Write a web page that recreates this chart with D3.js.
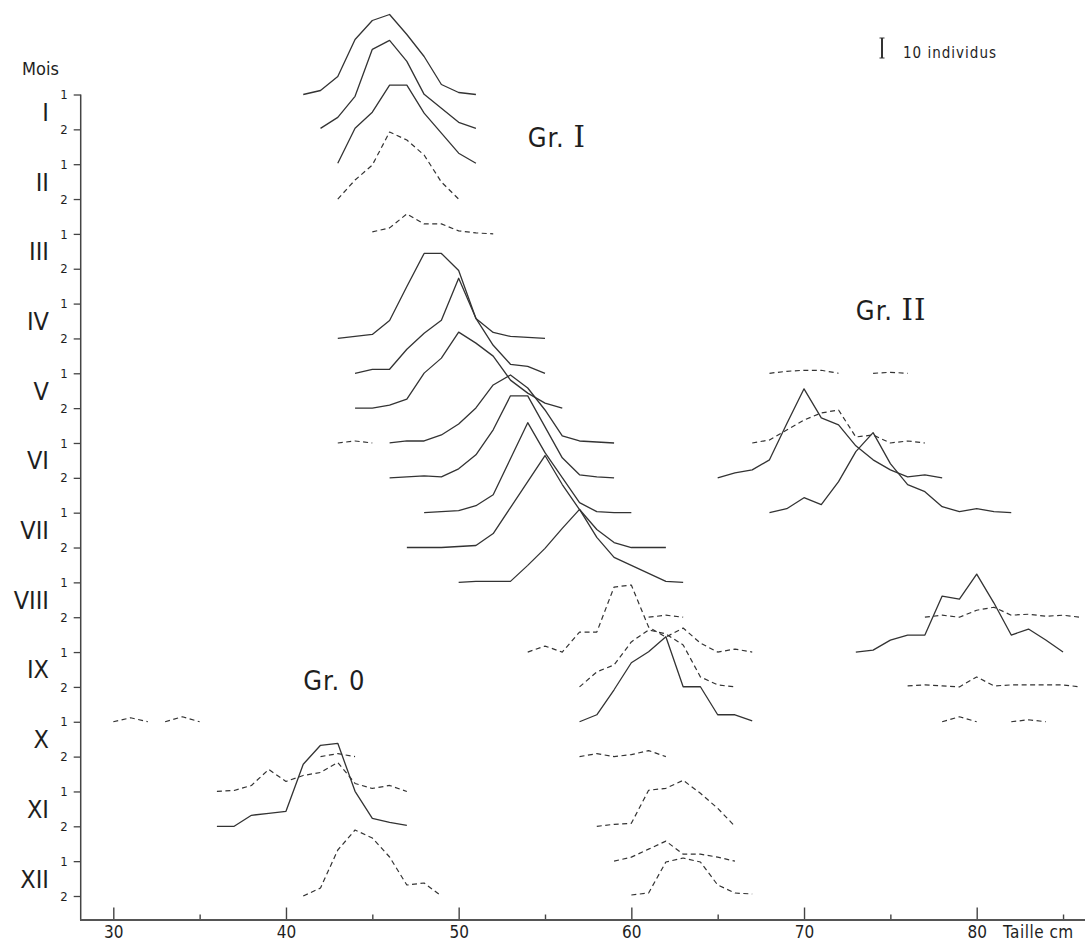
<!DOCTYPE html>
<html>
<head>
<meta charset="utf-8">
<script src="https://cdn.jsdelivr.net/npm/d3@7"></script>
<style>
  body { margin: 0; background: #fff; }
  svg text { font-family: "DejaVu Sans Condensed", "DejaVu Sans", sans-serif; fill: #1e1e1e; }
</style>
</head>
<body>
<div id="canvas"></div>
<script>
// DATA
const mois = ["I", "II", "III", "IV", "V", "VI", "VII", "VIII", "IX", "X", "XI", "XII"];
const quinzaines = [1, 2];
const xTicks = [30, 35, 40, 45, 50, 55, 60, 65, 70, 75, 80, 85];
const xLabels = [30, 40, 50, 60, 70, 80];

// m = mois, q = quinzaine, start = first size class (cm), n = individuals per 1 cm class
// petit = small sample (drawn dashed)
const grI = [
  { m: 1, q: 1, start: 41, n: [0, 2, 9, 27.5, 37, 40, 30, 19, 5, 1, 0] },
  { m: 1, q: 2, start: 42, n: [0.5, 6, 16.5, 40, 44.5, 34, 17.5, 10.5, 3.5, 0.5] },
  { m: 2, q: 1, start: 43, n: [0.5, 18, 26, 39.5, 39.5, 25.5, 15.5, 5.5, 0.5] },
  { m: 2, q: 2, start: 43, petit: true, n: [0, 9.5, 17, 33.5, 29.5, 22, 8.5, 0] },
  { m: 3, q: 1, start: 45, petit: true, n: [1, 3, 10, 5, 5, 1.5, 0.5, 0] },
  { m: 4, q: 2, start: 43, n: [0, 1, 2, 9, 26, 42.5, 42.5, 34, 10, 3, 1, 0.5, 0] },
  { m: 5, q: 1, start: 44, n: [0, 2, 2, 12, 20, 26.5, 47.5, 27.5, 14, 4.5, 3.5, 0] },
  { m: 5, q: 2, start: 44, n: [0, 0, 1.5, 4.5, 17.5, 25, 38, 32.5, 26, 14, 7.5, 2.5, 0] },
  { m: 6, q: 1, start: 43, petit: true, n: [0, 1, 0] },
  { m: 6, q: 1, start: 46, n: [0, 1, 1, 4, 9.5, 17.5, 29, 34, 27.5, 16.5, 3.5, 1, 0.5, 0] },
  { m: 6, q: 2, start: 46, n: [0, 0.5, 1, 0.5, 4.5, 11.5, 24, 41, 41, 25.5, 10, 1.5, 0.5, 0] },
  { m: 7, q: 1, start: 48, n: [0, 0.5, 1, 3.5, 9, 27, 45, 30, 17.5, 5, 0.5, 0, 0] },
  { m: 7, q: 2, start: 47, n: [0, 0, 0, 0.5, 1, 7, 20, 33, 46, 31.5, 19, 9, 2.5, 0, 0, 0] },
  { m: 8, q: 1, start: 50, n: [0, 0.5, 0.5, 0.5, 8.5, 17, 27, 36.5, 22.5, 12.5, 8.5, 4.5, 0.5, 0] },
  { m: 8, q: 2, start: 61, petit: true, n: [0, 1, 0] },
  { m: 9, q: 1, start: 54, petit: true, n: [0, 3, 0, 10, 10, 32.5, 33.5, 12.5, 7.5, 12, 4.5, 0, 1.5, 0] },
  { m: 9, q: 2, start: 57, petit: true, n: [0, 7.5, 11, 22.5, 28.5, 26.5, 21, 5, 1, 0] },
  { m: 10, q: 1, start: 57, n: [0, 3.5, 16, 29.5, 35, 42.5, 17.5, 17.5, 3.5, 3.5, 0.5] },
  { m: 10, q: 2, start: 57, petit: true, n: [0, 1.5, 0, 1, 3, 0] },
  { m: 11, q: 2, start: 58, petit: true, n: [0, 1, 1.5, 18, 19, 23, 16.5, 9, 0] },
  { m: 12, q: 1, start: 59, petit: true, n: [0, 2, 6, 10, 3.5, 3.5, 2, 0] },
  { m: 12, q: 2, start: 60, petit: true, n: [0.5, 1.5, 17, 19, 17, 5.5, 1.5, 1] }
];

const grII = [
  { m: 5, q: 1, start: 68, petit: true, n: [0, 1, 1.5, 1.5, 0] },
  { m: 5, q: 1, start: 74, petit: true, n: [0, 0.5, 0] },
  { m: 6, q: 1, start: 67, petit: true, n: [0, 1.5, 6.5, 11.5, 15, 16.5, 3, 4, 0, 1, 0] },
  { m: 6, q: 2, start: 65, n: [0, 2.5, 4, 9, 27, 44.5, 30, 26.5, 16, 9, 4, 0.5, 1.5, 0] },
  { m: 7, q: 1, start: 68, n: [0, 2, 7.5, 4, 15.5, 30.5, 40, 24.5, 14, 10.5, 3, 0.5, 2, 0.5, 0] },
  { m: 8, q: 2, start: 77, petit: true, n: [0, 1, 0, 3.5, 5, 1, 1.5, 0.5, 1, 0] },
  { m: 9, q: 1, start: 73, n: [0, 1, 6, 8.5, 8.5, 28, 26.5, 39, 24.5, 8.5, 11.5, 6, 0] },
  { m: 9, q: 2, start: 76, petit: true, n: [0.5, 1, 0.5, 0, 5, 0.5, 1, 1, 1, 1, 0] },
  { m: 10, q: 1, start: 78, petit: true, n: [0, 2.5, 0] },
  { m: 10, q: 1, start: 82, petit: true, n: [0, 1, 0] }
];

const grO = [
  { m: 10, q: 1, start: 30, petit: true, n: [0, 2, 0] },
  { m: 10, q: 1, start: 33, petit: true, n: [0, 2.5, 0] },
  { m: 10, q: 2, start: 42, petit: true, n: [0, 1.5, 0] },
  { m: 11, q: 1, start: 36, petit: true, n: [0, 0.5, 3, 11, 5, 8, 9.5, 14.5, 4, 1.5, 3, 0] },
  { m: 11, q: 2, start: 36, n: [0, 0, 5.5, 6.5, 7.5, 31, 40.5, 41.5, 17.5, 4, 2, 0.5] },
  { m: 12, q: 2, start: 41, petit: true, n: [0, 4, 23, 33, 29, 19.5, 5.5, 6.5, 0] }
];

const groupLabels = [
  { num: "I", cm: 54, key: "II-1", dy: -17 },
  { num: "II", cm: 73, key: "IV-2", dy: -18 },
  { num: "0", cm: 41, key: "IX-2", dy: 3 }
];

function drawGraph() {
  // DIMENSIONS
  const width = 1085;
  const height = 944;

  const canvas = d3.select("#canvas")
    .append("svg")
    .attr("width", width)
    .attr("height", height);

  // SCALES
  const rowKeys = mois.flatMap(m => quinzaines.map(q => m + "-" + q));
  const scaleRow = d3.scalePoint(rowKeys, [94.5, 896]);
  const scaleX = d3.scaleLinear([30, 80], [113.3, 976.7]);
  const scaleN = d3.scaleLinear([0, 10], [0, 20]);   // 10 individus = 20 px

  const ink = "#333";

  // CURVES
  const line = d3.line().x(d => scaleX(d.cm)).y(d => d.y);
  const curves = [...grI, ...grII, ...grO].map(c => {
    const base = scaleRow(mois[c.m - 1] + "-" + c.q);
    return { petit: c.petit, pts: c.n.map((v, i) => ({ cm: c.start + i, y: base - scaleN(v) })) };
  });

  canvas.append("g").selectAll("path").data(curves).enter()
    .append("path")
    .attr("d", d => line(d.pts))
    .attr("fill", "none")
    .attr("stroke", ink)
    .attr("stroke-width", d => d.petit ? 1.2 : 1.3)
    .attr("stroke-linejoin", "round")
    .attr("stroke-dasharray", d => d.petit ? "5,3.5" : null);

  // LEFT AXIS
  const yAx = d3.axisLeft(scaleRow).tickSize(7).tickPadding(6)
    .tickFormat(k => k.split("-")[1]);
  const yaxis = canvas.append("g")
    .attr("transform", "translate(80.7,0)")
    .call(yAx);
  yaxis.select(".domain").remove();
  yaxis.selectAll("line").attr("stroke", "#444").attr("stroke-width", 1.3);
  yaxis.selectAll("text").style("font-size", "13px").attr("fill", "#222");

  canvas.append("line")
    .attr("x1", 80.7).attr("x2", 80.7)
    .attr("y1", scaleRow(rowKeys[0])).attr("y2", 920)
    .attr("stroke", "#444").attr("stroke-width", 1.5);

  // month numerals
  canvas.append("g").selectAll("text").data(mois).enter()
    .append("text")
    .attr("x", 49)
    .attr("y", m => (scaleRow(m + "-1") + scaleRow(m + "-2")) / 2)
    .attr("dy", "0.36em")
    .attr("text-anchor", "end")
    .style("font-size", "25px")
    .text(m => m);

  canvas.append("text")
    .attr("x", 22).attr("y", 75)
    .style("font-size", "18px")
    .text("Mois");

  // BOTTOM AXIS
  const xAx = d3.axisTop(scaleX).tickValues(xTicks).tickSize(12).tickFormat("");
  const xaxis = canvas.append("g")
    .attr("transform", "translate(0,920)")
    .call(xAx);
  xaxis.select(".domain").remove();
  xaxis.selectAll(".tick line")
    .attr("y2", d => d % 10 === 0 ? -12.5 : -5.5)
    .attr("stroke", "#444").attr("stroke-width", 1.4);

  canvas.append("line")
    .attr("x1", 80).attr("x2", width)
    .attr("y1", 920).attr("y2", 920)
    .attr("stroke", "#555").attr("stroke-width", 1.8);

  const xLab = d3.axisBottom(scaleX).tickValues(xLabels).tickSize(0).tickPadding(0)
    .tickFormat(d3.format("d"));
  const xlabels = canvas.append("g")
    .attr("transform", "translate(0,938)")
    .call(xLab);
  xlabels.select(".domain").remove();
  xlabels.selectAll("text")
    .attr("dy", 0)
    .style("font-size", "17px")
    .attr("fill", "#222");

  canvas.append("text")
    .attr("x", 1003).attr("y", 938)
    .style("font-size", "17px")
    .style("letter-spacing", "0.5px")
    .text("Taille cm");

  // GROUP LABELS
  const gl = canvas.append("g").selectAll("text").data(groupLabels).enter()
    .append("text")
    .attr("x", d => scaleX(d.cm))
    .attr("y", d => scaleRow(d.key) + d.dy)
    .style("font-size", "27px")
    .style("letter-spacing", "1px");
  gl.append("tspan").text("Gr. ");
  gl.append("tspan")
    .style("font-family", d => d.num === "0" ? null : "'DejaVu Serif', serif")
    .style("font-size", d => d.num === "0" ? null : "29px")
    .text(d => d.num);

  // SCALE BAR
  const barTop = 38;
  const bar = canvas.append("g").attr("stroke", "#333").attr("stroke-width", 2);
  bar.append("line").attr("x1", 882).attr("x2", 882)
    .attr("y1", barTop).attr("y2", barTop + scaleN(10));
  bar.append("line").attr("x1", 879.5).attr("x2", 884.5).attr("y1", barTop).attr("y2", barTop).attr("stroke-width", 1);
  bar.append("line").attr("x1", 879.5).attr("x2", 884.5).attr("y1", barTop + scaleN(10)).attr("y2", barTop + scaleN(10)).attr("stroke-width", 1);

  canvas.append("text")
    .attr("x", 903).attr("y", 58)
    .style("font-size", "15px")
    .style("letter-spacing", "1px")
    .text("10 individus");
}

drawGraph();
</script>
</body>
</html>
